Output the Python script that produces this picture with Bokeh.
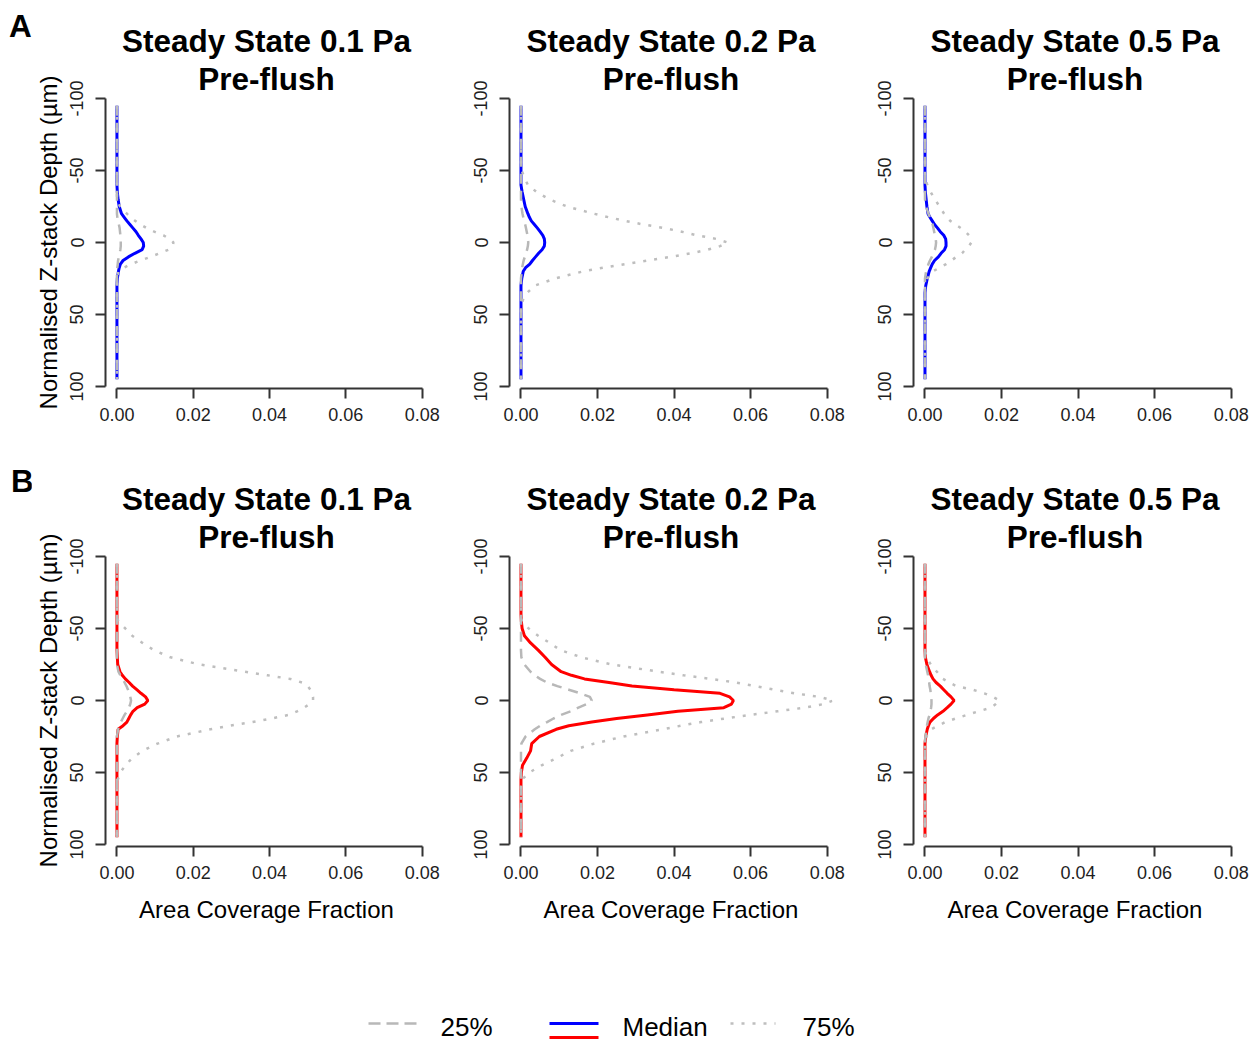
from bokeh.plotting import figure
from bokeh.layouts import column, row
from bokeh.models import Range1d, FixedTicker, PrintfTickFormatter, Title, Div
from bokeh.embed import file_html
from bokeh.resources import INLINE
from bokeh.core.properties import value

# ---------------- data ----------------
DEPTH = [-95, -60, -55, -50, -45,
         -40, -35, -30, -25, -20,
         -17.5, -15, -12.5, -10, -7.5,
         -5, -2.5, 0, 2.5, 5,
         7.5, 10, 12.5, 15, 17.5,
         20, 25, 30, 35, 40,
         45, 50, 55, 60, 95]

X_TICKS = [0, 0.02, 0.04, 0.06, 0.08]
Y_TICKS = [-100, -50, 0, 50, 100]
Y_TICK_TEXT = {-100: "-100", -50: "-50", 0: "0", 50: "50", 100: "100"}
PANEL_TITLES = ["Steady State 0.1 Pa", "Steady State 0.2 Pa", "Steady State 0.5 Pa"]
SUBTITLE = "Pre-flush"
ROW_LETTERS = ["A", "B"]
X_LABEL = "Area Coverage Fraction"
Y_LABEL = "Normalised Z-stack Depth (µm)"
LEGEND_LABELS = ["25%", "Median", "75%"]

# Row A (blue medians)
a1_q25 = [0, 0, 0, 0, 0,  0, 0, 0, 0, 0,
          0.0001, 0.0003, 0.0005, 0.0007, 0.0008,  0.0009, 0.0010, 0.0010, 0.0010, 0.0009,
          0.0007, 0.0005, 0.0003, 0.0002, 0.0001,  0, 0, 0, 0, 0,  0, 0, 0, 0, 0]
a1_med = [0, 0, 0, 0, 0,  0, 0.0001, 0.0003, 0.0006, 0.0012,
          0.0019, 0.0026, 0.0034, 0.0042, 0.0050,  0.0056, 0.0063, 0.0069, 0.0070, 0.0066,
          0.0047, 0.0030, 0.0016, 0.0009, 0.0006,  0.0004, 0.0001, 0, 0, 0,  0, 0, 0, 0, 0]
a1_q75 = [0, 0, 0, 0, 0,  0, 0, 0, 0.0008, 0.0026,
          0.0036, 0.0048, 0.0062, 0.0078, 0.0098,  0.0122, 0.0138, 0.0148, 0.0146, 0.0135,
          0.0112, 0.0088, 0.0062, 0.0037, 0.0018,  0.0004, 0, 0, 0, 0,  0, 0, 0, 0, 0]

a2_q25 = [0, 0, 0, 0, 0,  0, 0, 0, 0.0001, 0.0004,
          0.0006, 0.0008, 0.0011, 0.0013, 0.0015,  0.0017, 0.0018, 0.0019, 0.0018, 0.0016,
          0.0013, 0.0010, 0.0007, 0.0005, 0.0003,  0.0002, 0, 0, 0, 0,  0, 0, 0, 0, 0]
a2_med = [0, 0, 0, 0, 0,  0, 0.0003, 0.0007, 0.0011, 0.0018,
          0.0022, 0.0027, 0.0035, 0.0043, 0.0050,  0.0057, 0.0061, 0.0062, 0.0061, 0.0055,
          0.0046, 0.0038, 0.0030, 0.0023, 0.0012,  0.0006, 0.0002, 0, 0, 0,  0, 0, 0, 0, 0]
a2_q75 = [0, 0, 0, 0.0002, 0.0009,  0.0018, 0.0041, 0.0074, 0.0120, 0.0190,
          0.0230, 0.0272, 0.0320, 0.0375, 0.0420,  0.0460, 0.0510, 0.0540, 0.0520, 0.0488,
          0.0445, 0.0390, 0.0330, 0.0272, 0.0215,  0.0163, 0.0089, 0.0035, 0.0016, 0.0005,
          0, 0, 0, 0, 0]

a3_q25 = [0, 0, 0, 0, 0,  0, 0, 0, 0.0003, 0.0009,
          0.0013, 0.0017, 0.0020, 0.0022, 0.0024,  0.0026, 0.0028, 0.0029, 0.0028, 0.0026,
          0.0022, 0.0018, 0.0013, 0.0009, 0.0006,  0.0003, 0, 0, 0, 0,  0, 0, 0, 0, 0]
a3_med = [0, 0, 0, 0, 0,  0, 0.0001, 0.0003, 0.0005, 0.0008,
          0.0013, 0.0019, 0.0025, 0.0033, 0.0040,  0.0049, 0.0054, 0.0055, 0.0055, 0.0051,
          0.0042, 0.0035, 0.0025, 0.0019, 0.0015,  0.0011, 0.0006, 0.0002, 0, 0,  0, 0, 0, 0, 0]
a3_q75 = [0, 0, 0, 0, 0,  0.0006, 0.0015, 0.0026, 0.0038, 0.0050,
          0.0057, 0.0066, 0.0080, 0.0094, 0.0106,  0.0115, 0.0119, 0.0121, 0.0115, 0.0105,
          0.0097, 0.0082, 0.0069, 0.0055, 0.0038,  0.0021, 0.0006, 0, 0, 0,  0, 0, 0, 0, 0]

# Row B (red medians)
b1_q25 = [0, 0, 0, 0, 0,  0, 0, 0, 0, 0.0004,
          0.0009, 0.0015, 0.0020, 0.0025, 0.0029,  0.0033, 0.0035, 0.0037, 0.0035, 0.0031,
          0.0026, 0.0020, 0.0015, 0.0010, 0.0006,  0.0003, 0, 0, 0, 0,  0, 0, 0, 0, 0]
b1_med = [0, 0, 0, 0, 0,  0, 0, 0.0001, 0.0002, 0.0008,
          0.0014, 0.0022, 0.0032, 0.0041, 0.0052,  0.0063, 0.0075, 0.0081, 0.0073, 0.0053,
          0.0042, 0.0036, 0.0031, 0.0026, 0.0016,  0.0003, 0.0001, 0, 0, 0,  0, 0, 0, 0, 0]
b1_q75 = [0, 0, 0.0003, 0.0022, 0.0040,  0.0067, 0.0097, 0.0140, 0.0216, 0.0336,
          0.0395, 0.0454, 0.0485, 0.0500, 0.0507,  0.0512, 0.0514, 0.0514, 0.0505, 0.0490,
          0.0472, 0.0450, 0.0405, 0.0355, 0.0295,  0.0245, 0.0157, 0.0106, 0.0067, 0.0040,
          0.0022, 0.0009, 0.0002, 0, 0]

b2_q25 = [0, 0, 0, 0, 0,  0, 0, 0.0001, 0.0009, 0.0025,
          0.0036, 0.0050, 0.0068, 0.0095, 0.0125,  0.0155, 0.0180, 0.0185, 0.0172, 0.0150,
          0.0130, 0.0105, 0.0085, 0.0068, 0.0050,  0.0036, 0.0012, 0.0001, 0, 0,  0, 0, 0, 0, 0]
b2_med = [0, 0, 0.0001, 0.0003, 0.0009,  0.0025, 0.0045, 0.0063, 0.0080, 0.0105,
          0.0132, 0.0166, 0.0230, 0.0290, 0.0400,  0.0520, 0.0545, 0.0555, 0.0550, 0.0530,
          0.0410, 0.0330, 0.0250, 0.0185, 0.0125,  0.0092, 0.0048, 0.0028, 0.0025, 0.0015,
          0.0004, 0.0001, 0, 0, 0]
b2_q75 = [0, 0, 0.0002, 0.0020, 0.0045,  0.0075, 0.0103, 0.0158, 0.0237, 0.0360,
          0.0425, 0.0497, 0.0560, 0.0612, 0.0662,  0.0715, 0.0780, 0.0816, 0.0790, 0.0740,
          0.0670, 0.0600, 0.0533, 0.0470, 0.0418,  0.0370, 0.0268, 0.0190, 0.0130, 0.0093,
          0.0054, 0.0022, 0.0002, 0, 0]

b3_q25 = [0, 0, 0, 0, 0,  0, 0, 0, 0.0002, 0.0006,
          0.0008, 0.0009, 0.0011, 0.0012, 0.0014,  0.0015, 0.0016, 0.0017, 0.0017, 0.0016,
          0.0014, 0.0012, 0.0009, 0.0007, 0.0005,  0.0004, 0.0001, 0, 0, 0,  0, 0, 0, 0, 0]
b3_med = [0, 0, 0, 0, 0,  0, 0, 0.0001, 0.0005, 0.0012,
          0.0016, 0.0021, 0.0029, 0.0040, 0.0049,  0.0058, 0.0068, 0.0076, 0.0068, 0.0058,
          0.0047, 0.0033, 0.0022, 0.0013, 0.0009,  0.0006, 0.0002, 0, 0, 0,  0, 0, 0, 0, 0]
b3_q75 = [0, 0, 0, 0, 0,  0, 0, 0.0004, 0.0015, 0.0031,
          0.0039, 0.0047, 0.0063, 0.0082, 0.0125,  0.0155, 0.0178, 0.0195, 0.0185, 0.0172,
          0.0140, 0.0110, 0.0080, 0.0053, 0.0034,  0.0016, 0.0004, 0, 0, 0,  0, 0, 0, 0, 0]

# ---------------- styling / layout ----------------
FONT = "Liberation Sans"
GRAY = "#BEBEBE"
GRAY_DASH = "#B8B8B8"
AXIS_COLOR = "#333333"
LABEL_COLOR = "#1e1e1e"
MEDIAN_COLORS = ["#0000FF", "#FF0000"]
X_RANGE = (-0.0030, 0.0814)
Y_RANGE = (101.4, -101.4)   # depth increases downward
DASH_25 = "10 7"
DASH_75 = "3 8"
TITLE_SIZE = "31.5px"

LETTER_W = 31
COL_W = [(433, 73, 37), (404, 45, 36), (387, 45, 19)]     # width, border left, border right
ROW_H = [(450, 96, 62), (485, 104, 89)]                   # height, border top, border bottom
LETTER_POS = [(9, 8), (11, 13)]                           # left / top of the letter box


def style_axes(p, show_x_label, show_y_label):
    xa = p.xaxis[0]
    ya = p.yaxis[0]
    xa.ticker = FixedTicker(ticks=X_TICKS)
    xa.formatter = PrintfTickFormatter(format="%.2f")
    xa.bounds = (X_TICKS[0], X_TICKS[-1])
    ya.ticker = FixedTicker(ticks=Y_TICKS)
    ya.major_label_overrides = Y_TICK_TEXT
    ya.bounds = (Y_TICKS[0], Y_TICKS[-1])
    ya.major_label_orientation = "vertical"
    for ax in (xa, ya):
        ax.axis_line_color = AXIS_COLOR
        ax.axis_line_width = 2
        ax.major_tick_line_color = AXIS_COLOR
        ax.major_tick_line_width = 2
        ax.major_tick_in = 0
        ax.major_tick_out = 10
        ax.minor_tick_line_color = None
        ax.major_label_text_font = FONT
        ax.major_label_text_font_size = "18px"
        ax.major_label_text_color = LABEL_COLOR
        ax.axis_label_text_font = FONT
        ax.axis_label_text_font_size = "24px"
        ax.axis_label_text_font_style = "normal"
        ax.axis_label_text_color = "#000000"
    xa.major_label_standoff = 9
    ya.major_label_standoff = 12
    if show_x_label:
        xa.axis_label = X_LABEL
        xa.axis_label_standoff = 14
    if show_y_label:
        ya.axis_label = Y_LABEL
        ya.axis_label_standoff = 6


def make_panel(r, c, q25, med, q75):
    w, bl, br = COL_W[c]
    h, bt, bb = ROW_H[r]
    p = figure(width=w, height=h, x_range=Range1d(*X_RANGE), y_range=Range1d(*Y_RANGE),
               toolbar_location=None, output_backend="svg", title=None,
               min_border_left=bl, min_border_right=br,
               min_border_top=bt, min_border_bottom=bb)
    p.outline_line_color = None
    p.grid.visible = False
    p.background_fill_color = "white"
    p.border_fill_color = "white"
    p.add_layout(Title(text=SUBTITLE, align="center", text_font=FONT, text_font_size=TITLE_SIZE,
                       text_font_style="bold", text_color="black", standoff=0), "above")
    p.add_layout(Title(text=PANEL_TITLES[c], align="center", text_font=FONT, text_font_size=TITLE_SIZE,
                       text_font_style="bold", text_color="black", standoff=0), "above")
    style_axes(p, show_x_label=(r == 1), show_y_label=(c == 0))

    p.line(med, DEPTH, line_color=MEDIAN_COLORS[r], line_width=3)
    p.line(q25, DEPTH, line_color=GRAY_DASH, line_width=2.5, line_dash=DASH_25)
    p.line(q75, DEPTH, line_color=GRAY, line_width=2.5, line_dash=DASH_75)
    return p


def make_letter(r):
    h = ROW_H[r][0]
    lx, ly = LETTER_POS[r]
    html = ('<div style="position:relative; left:%dpx; top:%dpx; font-family:\'%s\'; '
            'font-size:%s; font-weight:bold; line-height:36px; color:black;">%s</div>'
            % (lx, ly, FONT, TITLE_SIZE, ROW_LETTERS[r]))
    return Div(text=html, width=LETTER_W, height=h, margin=(0, 0, 0, 0))


series = [
    [(a1_q25, a1_med, a1_q75), (a2_q25, a2_med, a2_q75), (a3_q25, a3_med, a3_q75)],
    [(b1_q25, b1_med, b1_q75), (b2_q25, b2_med, b2_q75), (b3_q25, b3_med, b3_q75)],
]

rows = []
for r in range(2):
    rows.append(row([make_letter(r)] + [make_panel(r, c, *series[r][c]) for c in range(3)],
                    spacing=0))

# ---------------- legend ----------------
LEG_W, LEG_H = 1255, 106
leg = figure(width=LEG_W, height=LEG_H, x_range=Range1d(0, LEG_W), y_range=Range1d(LEG_H, 0),
             toolbar_location=None, output_backend="svg", min_border=0, title=None)
leg.axis.visible = False
leg.grid.visible = False
leg.outline_line_color = None
KEY_Y = 88
leg.line([368, 417], [KEY_Y, KEY_Y], line_color=GRAY_DASH, line_width=2.5, line_dash="12 6")
leg.line([549, 598], [KEY_Y, KEY_Y], line_color=MEDIAN_COLORS[0], line_width=3)
leg.line([549, 598], [KEY_Y + 14, KEY_Y + 14], line_color=MEDIAN_COLORS[1], line_width=3)
leg.line([730, 775], [KEY_Y, KEY_Y], line_color=GRAY, line_width=2.5, line_dash="3 8")
leg.text(x=[440, 622, 802], y=[KEY_Y + 3] * 3, text=LEGEND_LABELS,
         text_font=value(FONT), text_font_size="26px", text_baseline="middle",
         text_align="left", text_color="black")

layout = column(rows[0], rows[1], leg, spacing=0)

open("out.html", "w").write(file_html(layout, INLINE))
